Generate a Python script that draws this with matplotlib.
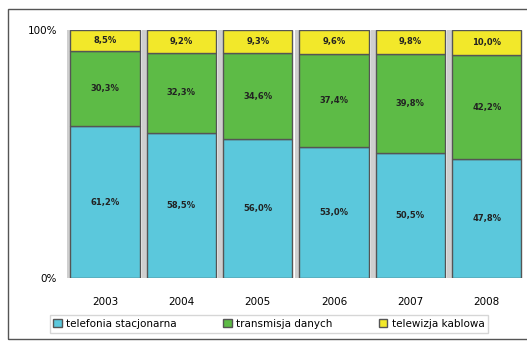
import matplotlib.pyplot as plt
from matplotlib.patches import Rectangle
import numpy as np

years = ['2003', '2004', '2005', '2006', '2007', '2008']
telefonia = [61.2, 58.5, 56.0, 53.0, 50.5, 47.8]
transmisja = [30.3, 32.3, 34.6, 37.4, 39.8, 42.2]
telewizja = [8.5, 9.2, 9.3, 9.6, 9.8, 10.0]
series_names = ['telefonia stacjonarna', 'transmisja danych', 'telewizja kablowa']
colors = ['#5bc8dc', '#5dbb46', '#f2e82a']

fig = plt.figure(figsize=(5.27, 3.41), dpi=100)
ax = fig.add_axes([0.127, 0.185, 0.869, 0.727])

x = np.arange(len(years))
width = 0.91

# light shadow behind each stacked bar
totals = np.array(telefonia) + np.array(transmisja) + np.array(telewizja)
ax.bar(x - 0.06, totals, width, color='#cfcfcf', edgecolor='none', zorder=1)

bottom = np.zeros(len(years))
for vals, name, c in zip([telefonia, transmisja, telewizja], series_names, colors):
    vals = np.array(vals)
    ax.bar(x, vals, width, bottom=bottom, color=c, edgecolor='#555555',
           linewidth=1.0, label=name, zorder=2)
    for xi, b, v in zip(x, bottom, vals):
        ax.text(xi, b + v / 2, f'{v:.1f}%'.replace('.', ','), ha='center',
                va='center', fontsize=6, fontweight='bold', color='#222222', zorder=3)
    bottom += vals

ax.set_xlim(-0.5, 5.5)
ax.set_ylim(0, 100)
ax.set_yticks([0, 100])
ax.set_yticklabels(['0%', '100%'], fontsize=7.5)
ax.set_xticks(x)
ax.set_xticklabels(years, fontsize=7.5)
ax.tick_params(axis='x', length=0, pad=14)
ax.tick_params(axis='y', length=0, pad=7)
for s in ['top', 'right', 'bottom', 'left']:
    ax.spines[s].set_visible(False)

leg = fig.legend(loc='center', bbox_to_anchor=(0.51, 0.05), ncol=3, fontsize=7.5,
                 frameon=True, fancybox=False, edgecolor='#cccccc',
                 handlelength=0.8, handleheight=0.8, columnspacing=4.5,
                 handletextpad=0.4, borderpad=0.35)
for h in leg.legend_handles:
    h.set_edgecolor('#555555')

fig.patches.append(Rectangle((8 / 527, 2 / 341), 1.0, 330 / 341, transform=fig.transFigure,
                             fill=False, edgecolor='#555555', linewidth=1.0))

plt.savefig('out.png', dpi=100)
